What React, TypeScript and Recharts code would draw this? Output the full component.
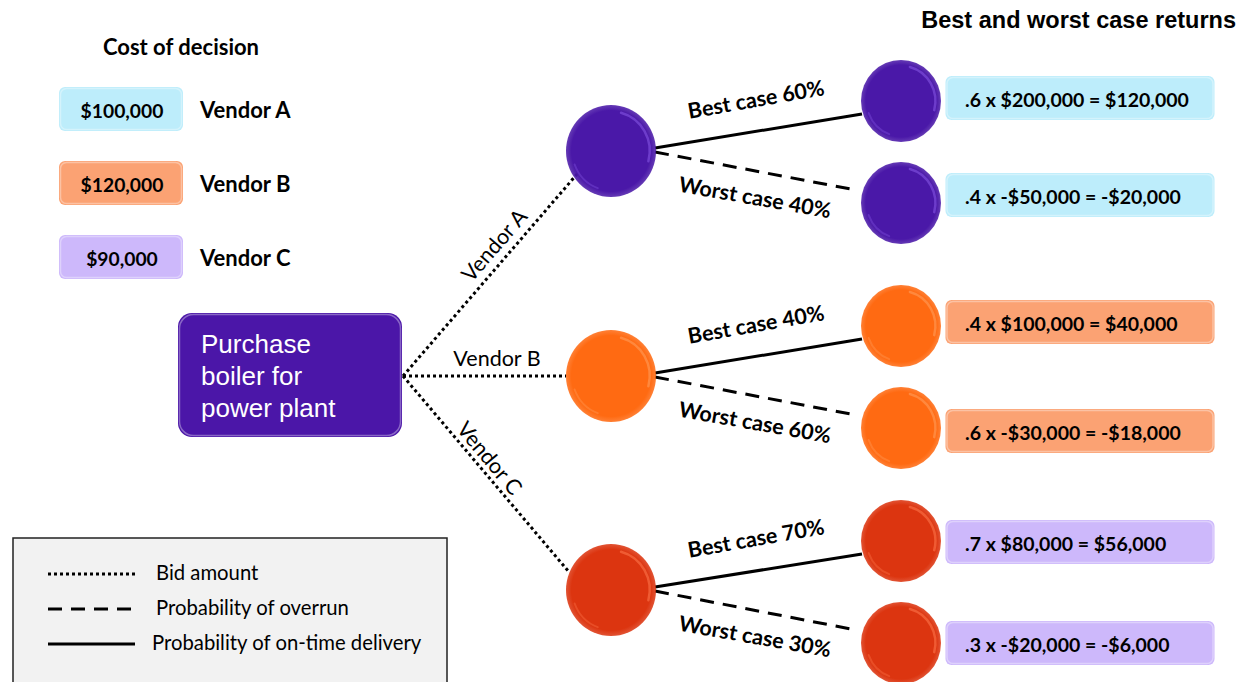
import React from 'react';
import { ScatterChart, Scatter, XAxis, YAxis } from 'recharts';

// ---------- data ----------
const vendors = ['Vendor A', 'Vendor B', 'Vendor C'];
const bidCosts = [100000, 120000, 90000];
const bestProbs = [0.6, 0.4, 0.7];
const worstProbs = [0.4, 0.6, 0.3];
const bestReturns = [200000, 100000, 80000];
const worstReturns = [-50000, -30000, -20000];
const legendLabels = ['Bid amount', 'Probability of overrun', 'Probability of on-time delivery'];
const rootLines = ['Purchase', 'boiler for', 'power plant'];
const costTitle = 'Cost of decision';
const returnsTitle = 'Best and worst case returns';

// ---------- layout / styles ----------
const W = 1239;
const H = 682;
const nodeColors = ['#4A18A8', '#FF6A12', '#DC3510'];
const nodeLight = ['#8A5BE8', '#FFA060', '#FF7A50'];
const boxColors = ['#BDEDFB', '#FBA273', '#CDB8FB'];
const FONT = 'Lato, "Open Sans", sans-serif';
const ARIAL = '"Liberation Sans", Arial, sans-serif';

const root = { x: 290, y: 375, w: 224, h: 124, anchorX: 403 };
const vendorX = 611;
const vendorY = [151, 376, 590];
const vendorEdge = [{ x: 578, y: 173 }, { x: 566, y: 376 }, { x: 569, y: 572 }];
const vendorR = 45;
const leafX = 900;
const leafY = [[101, 203], [326, 428], [541, 643]];
const leafR = 40;
const resBox = { x: 1080, w: 269, h: 44, textX: 965 };
const resY = [[98, 195], [322, 431], [542, 643]];
const costBox = { x: 121, w: 124, h: 44, labelX: 200 };
const costY = [109, 183, 257];
const vendorLabelPos = [
  { x: 494, y: 245, rot: -49 },
  { x: 497, y: 358, rot: 0 },
  { x: 490, y: 458, rot: 50 },
];
const legendBox = { x1: 13, y1: 538, x2: 447, y2: 700 };
const legendRows = [574, 609, 644];
const legendDash = ['3 3', '14 9', ''];

const fmtMoney = (v: number) => (v < 0 ? '-' : '') + '$' + Math.abs(v).toLocaleString('en-US');
const fmtProb = (p: number) => '.' + Math.round(p * 10);
const pct = (p: number) => Math.round(p * 100) + '%';

type Pt = { x: number; y: number };
type Seg = { a: Pt; b: Pt; dash: string };

// line segments
const segments: Seg[] = [];
vendors.forEach((_, i) => {
  segments.push({ a: { x: root.anchorX, y: root.y + 1 }, b: vendorEdge[i], dash: legendDash[0] });
  segments.push({
    a: { x: vendorX + 44, y: vendorY[i] - 3 },
    b: { x: leafX - 38, y: leafY[i][0] + 13 },
    dash: legendDash[2],
  });
  segments.push({
    a: { x: vendorX + 44, y: vendorY[i] + 1 },
    b: { x: leafX - 44, y: leafY[i][1] - 13 },
    dash: legendDash[1],
  });
});
legendRows.forEach((y, i) => {
  segments.push({ a: { x: 48, y }, b: { x: 135, y }, dash: legendDash[i] });
});

// nodes
type Node = { x: number; y: number; r: number; ry: number; color: string; light: string };
const nodes: Node[] = [];
vendors.forEach((_, i) => {
  nodes.push({ x: vendorX, y: vendorY[i], r: vendorR, ry: vendorR + 1, color: nodeColors[i], light: nodeLight[i] });
  leafY[i].forEach((ly) =>
    nodes.push({ x: leafX + 1, y: ly, r: leafR, ry: leafR + 1, color: nodeColors[i], light: nodeLight[i] })
  );
});

// boxes
type Box = { x: number; y: number; w: number; h: number; fill: string; rx: number };
const boxes: Box[] = [];
vendors.forEach((_, i) => {
  boxes.push({ x: costBox.x, y: costY[i], w: costBox.w, h: costBox.h, fill: boxColors[i], rx: 6 });
  resY[i].forEach((ry) => boxes.push({ x: resBox.x, y: ry, w: resBox.w, h: resBox.h, fill: boxColors[i], rx: 6 }));
});
boxes.push({ x: root.x, y: root.y, w: root.w, h: root.h, fill: '#4B16A8', rx: 14 });

// texts
type Txt = {
  x: number; y: number; text: string; size: number; weight?: number; anchor?: string;
  rot?: number; family?: string; fill?: string;
};
const texts: Txt[] = [];
texts.push({ x: 181, y: 46, text: costTitle, size: 22, weight: 700, anchor: 'middle' });
texts.push({ x: 1236, y: 20, text: returnsTitle, size: 23.5, weight: 700, anchor: 'end', family: ARIAL });
vendors.forEach((v, i) => {
  texts.push({ x: costBox.x + 1, y: costY[i] + 1, text: fmtMoney(bidCosts[i]), size: 19.3, weight: 700, anchor: 'middle' });
  texts.push({ x: costBox.labelX, y: costY[i], text: v, size: 22, weight: 700 });
  const lp = vendorLabelPos[i];
  texts.push({ x: lp.x, y: lp.y, text: v, size: 21.5, anchor: 'middle', rot: lp.rot });
  texts.push({
    x: resBox.textX, y: resY[i][0] + 1,
    text: `${fmtProb(bestProbs[i])} x ${fmtMoney(bestReturns[i])} = ${fmtMoney(bestProbs[i] * bestReturns[i])}`,
    size: 19.5, weight: 700,
  });
  texts.push({
    x: resBox.textX, y: resY[i][1] + 1,
    text: `${fmtProb(worstProbs[i])} x ${fmtMoney(worstReturns[i])} = ${fmtMoney(worstProbs[i] * worstReturns[i])}`,
    size: 19.5, weight: 700,
  });
  texts.push({ x: 756, y: vendorY[i] - 52, text: `Best case ${pct(bestProbs[i])}`, size: 21.5, weight: 700, anchor: 'middle', rot: -10 });
  texts.push({ x: 755, y: vendorY[i] + 46, text: `Worst case ${pct(worstProbs[i])}`, size: 21.5, weight: 700, anchor: 'middle', rot: 10 });
});
rootLines.forEach((t, i) => {
  texts.push({ x: 201, y: 344 + i * 32, text: t, size: 26, family: ARIAL, fill: '#FFFFFF' });
});
legendLabels.forEach((t, i) => {
  texts.push({ x: i === 2 ? 152 : 156, y: legendRows[i] - 2, text: t, size: 20.3 });
});

const legendData = [{ x: (legendBox.x1 + legendBox.x2) / 2, y: (legendBox.y1 + legendBox.y2) / 2 }];

// ---------- shapes ----------
const BoxShape = (props: any) => {
  const { cx, cy, payload } = props;
  const b = payload as Box;
  return (
    <g>
      <rect x={cx - b.w / 2} y={cy - b.h / 2} width={b.w} height={b.h} rx={b.rx} fill={b.fill} />
      <rect x={cx - b.w / 2 + 1.5} y={cy - b.h / 2 + 1.5} width={b.w - 3} height={b.h - 3} rx={b.rx}
        fill="none" stroke="#FFFFFF" strokeOpacity={0.35} strokeWidth={1.5} />
    </g>
  );
};

const NodeShape = (props: any) => {
  const { cx, cy, payload } = props;
  const n = payload as Node;
  const id = 'g' + n.color.replace('#', '');
  const a1 = (-75 * Math.PI) / 180;
  const a2 = (15 * Math.PI) / 180;
  const rr = 0.86;
  const p1 = { x: cx + n.r * rr * Math.cos(a1), y: cy + n.ry * rr * Math.sin(a1) };
  const p2 = { x: cx + n.r * rr * Math.cos(a2), y: cy + n.ry * rr * Math.sin(a2) };
  const b1 = (110 * Math.PI) / 180;
  const b2 = (160 * Math.PI) / 180;
  const q1 = { x: cx + n.r * rr * Math.cos(b1), y: cy + n.ry * rr * Math.sin(b1) };
  const q2 = { x: cx + n.r * rr * Math.cos(b2), y: cy + n.ry * rr * Math.sin(b2) };
  return (
    <g>
      <defs>
        <radialGradient id={id} cx="50%" cy="50%" r="50%">
          <stop offset="0%" stopColor={n.color} />
          <stop offset="88%" stopColor={n.color} />
          <stop offset="100%" stopColor={n.color} stopOpacity={0.85} />
        </radialGradient>
      </defs>
      <ellipse cx={cx} cy={cy} rx={n.r} ry={n.ry} fill={`url(#${id})`} />
      <path d={`M${p1.x},${p1.y} A${n.r * rr},${n.ry * rr} 0 0 1 ${p2.x},${p2.y}`} fill="none"
        stroke={n.light} strokeOpacity={0.55} strokeWidth={2.5} strokeLinecap="round" />
      <path d={`M${q1.x},${q1.y} A${n.r * rr},${n.ry * rr} 0 0 1 ${q2.x},${q2.y}`} fill="none"
        stroke={n.light} strokeOpacity={0.35} strokeWidth={2} strokeLinecap="round" />
    </g>
  );
};

const TextShape = (props: any) => {
  const { cx, cy, payload } = props;
  const t = payload as Txt;
  return (
    <text x={cx} y={cy} fontSize={t.size} fontWeight={t.weight ?? 400} fontFamily={t.family ?? FONT}
      textAnchor={(t.anchor as any) ?? 'start'} dominantBaseline="central" fill={t.fill ?? '#000000'}
      transform={t.rot ? `rotate(${t.rot} ${cx} ${cy})` : undefined}>
      {t.text}
    </text>
  );
};

const LegendShape = (props: any) => {
  const { cx, cy } = props;
  const w = legendBox.x2 - legendBox.x1;
  const h = legendBox.y2 - legendBox.y1;
  return <rect x={cx - w / 2} y={cy - h / 2} width={w} height={h} fill="#F2F2F2" stroke="#222" strokeWidth={1.5} />;
};

const Empty = () => <g />;

export default function App() {
  return (
    <div style={{ position: 'absolute', left: 0, top: 0, width: W, height: H, background: '#FFFFFF' }}>
      <ScatterChart width={W} height={H} margin={{ top: 0, right: 0, bottom: 0, left: 0 }}>
        <XAxis type="number" dataKey="x" domain={[0, W]} hide allowDataOverflow />
        <YAxis type="number" dataKey="y" domain={[0, H]} reversed hide allowDataOverflow width={0} />
        <Scatter data={legendData} shape={LegendShape} isAnimationActive={false} />
        {segments.map((s, i) => (
          <Scatter key={'s' + i} data={[s.a, s.b]} shape={Empty} isAnimationActive={false}
            line={{ stroke: '#000000', strokeWidth: 3, strokeDasharray: s.dash || undefined }} />
        ))}
        <Scatter data={boxes} shape={BoxShape} isAnimationActive={false} />
        <Scatter data={nodes} shape={NodeShape} isAnimationActive={false} />
        <Scatter data={texts} shape={TextShape} isAnimationActive={false} />
      </ScatterChart>
    </div>
  );
}
